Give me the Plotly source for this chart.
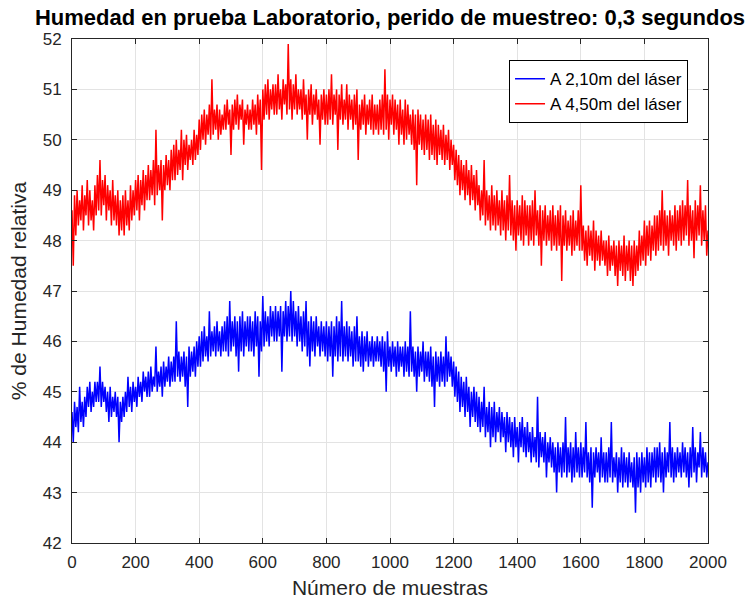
import plotly.graph_objects as go

# Sample spacing of the stored readings (every 4th sample of the 2000-sample run)
STEP = 4

# Relative humidity (%) at 4,50 m from the laser, one row per 80 samples
hum_450 = [
    48.6, 47.5, 48.9, 48.1, 49.0, 48.3, 48.8, 48.4, 49.1, 48.2, 48.9, 48.5, 49.2, 48.3, 49.0, 48.4, 48.8, 48.2, 49.1, 48.5,
    49.3, 48.6, 49.6, 48.5, 49.2, 48.7, 49.3, 48.4, 49.1, 48.6, 49.0, 48.3, 49.2, 48.4, 48.9, 48.3, 49.0, 48.1, 48.8, 48.2,
    48.9, 48.1, 49.0, 48.3, 48.8, 48.2, 49.1, 48.4, 49.0, 48.5, 49.2, 48.6, 49.3, 48.4, 49.2, 48.7, 49.4, 48.6, 49.3, 48.8,
    49.5, 48.8, 49.4, 48.9, 49.6, 48.7, 50.2, 48.9, 49.5, 49.0, 49.6, 48.4, 49.5, 49.0, 49.7, 49.1, 49.6, 49.0, 49.8, 49.2,
    49.9, 49.2, 50.0, 49.3, 49.8, 49.4, 50.2, 49.2, 50.0, 49.5, 50.1, 49.4, 49.9, 49.6, 50.0, 49.5, 50.2, 49.6, 50.1, 49.7,
    50.4, 49.8, 50.5, 50.0, 50.6, 49.9, 50.5, 50.1, 50.7, 50.0, 51.2, 50.1, 50.6, 50.2, 50.7, 50.0, 50.6, 50.1, 50.5, 50.2,
    50.7, 50.2, 50.8, 50.3, 50.6, 49.7, 50.7, 50.2, 50.8, 50.3, 50.9, 50.2, 50.7, 50.4, 50.8, 49.9, 50.6, 50.3, 50.7, 50.2,
    50.6, 50.2, 50.8, 50.3, 50.7, 50.1, 50.9, 50.3, 50.8, 49.4, 51.0, 50.4, 51.1, 50.5, 51.2, 50.4, 51.0, 50.6, 51.1, 50.5,
    51.1, 50.5, 51.3, 50.6, 51.0, 50.4, 51.2, 50.7, 51.1, 50.5, 51.9, 50.6, 51.2, 50.4, 51.1, 50.6, 51.3, 50.5, 51.0, 50.6,
    51.0, 50.4, 51.2, 50.5, 50.9, 50.0, 51.0, 50.5, 51.1, 50.3, 50.9, 50.5, 51.0, 50.4, 50.8, 49.9, 50.9, 50.4, 51.0, 50.3,
    50.9, 50.3, 51.0, 50.4, 51.3, 50.3, 50.9, 50.5, 51.0, 49.8, 50.9, 50.4, 51.1, 50.3, 50.8, 50.4, 51.1, 50.2, 50.9, 50.4,
    50.8, 50.2, 50.9, 50.3, 51.0, 49.6, 50.7, 50.2, 50.8, 50.3, 50.9, 50.1, 50.7, 50.3, 50.8, 50.2, 50.9, 50.1, 50.7, 50.2,
    50.7, 50.1, 50.8, 50.2, 50.9, 50.1, 51.4, 50.2, 50.9, 50.0, 50.8, 50.3, 50.9, 50.1, 50.8, 50.2, 50.7, 49.9, 50.8, 50.1,
    50.6, 49.9, 50.8, 50.0, 50.7, 50.1, 50.5, 49.9, 50.6, 49.8, 50.5, 49.1, 50.6, 49.9, 50.5, 49.8, 50.4, 49.7, 50.5, 49.8,
    50.4, 49.6, 50.5, 49.7, 50.3, 49.6, 50.4, 49.5, 50.3, 49.7, 50.2, 49.6, 50.3, 49.5, 50.1, 49.6, 50.2, 49.4, 50.0, 49.5,
    49.9, 49.2, 49.8, 49.1, 49.7, 48.9, 49.6, 49.0, 49.5, 48.8, 49.6, 48.9, 49.4, 48.7, 49.5, 48.8, 49.3, 48.6, 49.4, 48.7,
    49.1, 48.4, 49.0, 48.5, 49.6, 48.3, 49.0, 48.4, 48.9, 48.2, 49.1, 48.3, 48.9, 48.2, 49.0, 48.3, 48.8, 48.1, 49.0, 48.2,
    48.8, 48.0, 48.9, 48.2, 49.3, 48.1, 48.8, 48.0, 48.7, 47.8, 48.8, 48.1, 48.7, 48.0, 48.9, 47.9, 48.8, 48.1, 48.7, 47.9,
    48.7, 48.0, 48.8, 47.9, 49.0, 48.1, 48.6, 47.9, 48.7, 47.5, 48.6, 48.0, 48.7, 47.9, 48.5, 48.0, 48.6, 47.8, 48.7, 47.9,
    48.5, 47.8, 48.6, 47.9, 48.7, 47.2, 48.5, 47.9, 48.6, 47.8, 48.4, 47.9, 48.5, 47.7, 48.6, 47.8, 48.4, 47.9, 48.6, 47.8,
    49.1, 47.8, 48.3, 47.6, 48.2, 47.5, 48.3, 47.7, 48.2, 47.6, 48.4, 47.4, 48.2, 47.6, 48.1, 47.5, 48.2, 47.6, 48.0, 47.5,
    48.0, 47.3, 48.1, 47.4, 47.9, 47.5, 48.0, 47.3, 47.9, 47.1, 48.0, 47.4, 47.9, 47.3, 48.1, 47.2, 47.9, 47.4, 48.0, 47.2,
    47.9, 47.1, 48.0, 47.3, 47.9, 47.4, 48.2, 47.5, 48.1, 47.6, 48.4, 47.5, 48.3, 47.7, 48.4, 47.6, 48.3, 47.8, 48.5, 47.7,
    48.5, 47.8, 48.6, 47.9, 49.0, 47.8, 48.6, 47.9, 48.5, 47.7, 48.6, 48.0, 48.5, 47.9, 48.7, 47.8, 48.6, 48.0, 48.7, 47.9,
    48.8, 48.0, 48.7, 48.1, 49.2, 47.9, 48.7, 48.0, 48.6, 47.65, 48.8, 48.0, 48.7, 48.1, 49.1, 47.9, 48.6, 48.0, 48.7, 47.7,
    48.2,
]

# Relative humidity (%) at 2,10 m from the laser, one row per 80 samples
hum_210 = [
    44.6, 44.0, 44.8, 44.3, 44.7, 44.2, 45.1, 44.4, 44.8, 44.3, 44.9, 44.5, 45.1, 44.7, 45.2, 44.6, 45.0, 44.7, 45.2, 44.8,
    45.2, 44.8, 45.5, 44.7, 45.2, 44.8, 45.1, 44.6, 45.0, 44.4, 45.1, 44.5, 44.9, 44.6, 45.0, 44.5, 44.9, 44.0, 44.8, 44.4,
    44.9, 44.5, 45.0, 44.6, 45.3, 44.7, 45.1, 44.6, 45.2, 44.8, 45.1, 44.7, 45.3, 44.9, 45.2, 44.8, 45.4, 45.0, 45.3, 44.9,
    45.4, 44.9, 45.5, 45.0, 45.3, 45.1, 45.9, 45.0, 45.4, 45.1, 45.5, 44.9, 45.6, 45.1, 45.5, 45.2, 45.7, 45.1, 45.6, 45.2,
    45.7, 45.2, 46.4, 45.3, 45.8, 45.2, 45.7, 45.3, 45.8, 45.1, 45.7, 44.7, 45.9, 45.3, 45.8, 45.4, 45.9, 45.3, 46.0, 45.5,
    46.1, 45.5, 46.2, 45.6, 46.3, 45.7, 46.1, 45.6, 46.6, 45.7, 46.2, 45.8, 46.3, 45.7, 46.4, 45.8, 46.2, 45.7, 46.3, 45.8,
    46.4, 45.8, 46.5, 45.7, 46.8, 45.8, 46.4, 45.9, 46.5, 45.7, 46.4, 45.4, 46.5, 45.8, 46.6, 45.7, 46.4, 45.9, 46.5, 45.8,
    46.5, 45.8, 46.4, 45.7, 46.6, 45.9, 46.5, 45.3, 46.4, 45.8, 46.9, 45.9, 46.6, 46.0, 46.5, 45.9, 46.7, 46.1, 46.6, 46.0,
    46.7, 46.0, 46.6, 46.1, 46.7, 45.4, 46.6, 46.1, 46.8, 46.0, 46.7, 46.1, 47.0, 46.0, 46.8, 46.1, 46.6, 45.9, 46.7, 46.0,
    46.5, 45.8, 46.6, 45.9, 46.8, 45.7, 46.4, 45.5, 46.5, 45.8, 46.4, 45.7, 46.5, 45.9, 46.3, 45.7, 46.4, 45.8, 46.3, 45.7,
    46.4, 45.6, 46.3, 45.7, 46.4, 45.3, 46.3, 45.7, 46.5, 45.6, 46.4, 45.7, 46.8, 45.6, 46.3, 45.7, 46.4, 45.6, 46.3, 45.7,
    46.2, 45.5, 46.3, 45.6, 46.5, 45.6, 46.1, 45.5, 46.2, 45.4, 46.1, 45.6, 46.2, 45.5, 46.0, 45.6, 46.1, 45.5, 46.0, 45.6,
    46.1, 45.6, 46.0, 45.5, 46.1, 45.4, 46.0, 45.0, 46.2, 45.5, 45.9, 45.4, 46.0, 45.5, 45.9, 45.3, 46.0, 45.4, 45.9, 45.5,
    45.9, 45.3, 46.0, 45.4, 45.9, 45.3, 46.6, 45.4, 45.9, 45.3, 45.8, 45.0, 45.9, 45.3, 45.8, 45.4, 46.0, 45.2, 45.8, 45.3,
    45.8, 45.2, 45.9, 45.1, 45.7, 44.7, 45.8, 45.2, 45.7, 45.1, 45.8, 45.2, 45.7, 45.1, 46.1, 45.2, 45.8, 45.3, 45.7, 45.1,
    45.6, 44.9, 45.5, 44.8, 45.4, 44.6, 45.3, 44.7, 45.2, 44.5, 45.3, 44.6, 45.1, 44.3, 45.0, 44.5, 45.1, 44.4, 45.0, 44.3,
    44.9, 44.2, 44.8, 44.3, 45.1, 44.1, 44.7, 44.2, 44.8, 43.9, 44.7, 44.1, 44.8, 44.0, 44.6, 44.2, 44.7, 44.0, 44.6, 44.1,
    44.5, 43.8, 44.6, 44.0, 44.5, 43.9, 44.4, 43.7, 44.5, 43.9, 44.3, 43.6, 44.4, 43.9, 44.5, 43.8, 44.3, 43.7, 44.4, 43.8,
    44.2, 43.6, 44.3, 43.7, 44.1, 43.6, 44.9, 43.5, 44.2, 43.7, 44.1, 43.6, 44.2, 43.3, 44.0, 43.6, 44.1, 43.5, 44.0, 43.4,
    43.9, 43.0, 44.0, 43.4, 43.9, 43.3, 44.0, 43.4, 44.5, 43.3, 43.9, 43.4, 44.0, 43.2, 43.9, 43.3, 44.2, 43.4, 43.9, 43.3,
    44.0, 43.3, 43.9, 43.4, 44.4, 43.3, 43.8, 43.2, 43.9, 42.7, 43.8, 43.3, 43.9, 43.4, 43.8, 43.2, 44.1, 43.3, 43.8, 43.2,
    43.8, 43.2, 43.9, 43.3, 44.4, 43.2, 43.7, 43.3, 43.8, 43.0, 43.7, 43.2, 43.9, 43.1, 43.8, 43.2, 43.7, 43.1, 43.8, 43.2,
    43.6, 43.1, 43.7, 42.6, 43.8, 43.1, 43.7, 43.0, 43.8, 43.2, 43.7, 43.1, 43.9, 43.2, 43.8, 43.1, 43.8, 43.3, 43.9, 43.2,
    43.9, 43.3, 44.0, 43.2, 43.8, 43.0, 43.9, 43.3, 43.8, 43.4, 44.4, 43.3, 43.9, 43.2, 43.8, 43.3, 43.9, 43.4, 43.8, 43.3,
    44.0, 43.4, 43.9, 43.3, 43.8, 43.1, 43.9, 43.3, 44.3, 43.4, 43.9, 43.2, 43.8, 43.5, 44.2, 43.3, 43.9, 43.4, 43.8, 43.3,
    43.6,
]

samples = [i * STEP for i in range(len(hum_210))]

x_ticks = [0, 200, 400, 600, 800, 1000, 1200, 1400, 1600, 1800, 2000]
y_ticks = [42, 43, 44, 45, 46, 47, 48, 49, 50, 51, 52]

FONT = "Liberation Sans, Arial, Helvetica, sans-serif"
AXIS_GREY = "#262626"
GRID_GREY = "#e3e3e3"

fig = go.Figure()
fig.add_trace(go.Scatter(
    x=samples, y=hum_210, mode="lines", name="A 2,10m del láser",
    line=dict(color="#0000ff", width=1.5),
))
fig.add_trace(go.Scatter(
    x=samples, y=hum_450, mode="lines", name="A 4,50m del láser",
    line=dict(color="#ff0000", width=1.5),
))

axis_common = dict(
    showgrid=True, gridcolor=GRID_GREY, gridwidth=1,
    showline=True, linecolor=AXIS_GREY, linewidth=1, mirror="ticks",
    ticks="inside", ticklen=5, tickcolor=AXIS_GREY, tickwidth=1,
    zeroline=False,
    tickfont=dict(family=FONT, size=17, color=AXIS_GREY),
)

fig.update_layout(
    width=749, height=606,
    margin=dict(l=72, r=41, t=39, b=63),
    paper_bgcolor="white", plot_bgcolor="white",
    font=dict(family=FONT, color=AXIS_GREY),
    title=dict(
        text="<b>Humedad en prueba Laboratorio, perido de muestreo: 0,3 segundos</b>",
        font=dict(family=FONT, size=22, color="#000000"),
        x=0.5, xref="paper", xanchor="center",
        y=1 - 17 / 606, yref="container", yanchor="middle",
    ),
    xaxis=dict(
        range=[0, 2000], tickvals=x_ticks,
        title=dict(text="Número de muestras", font=dict(family=FONT, size=21, color=AXIS_GREY), standoff=8),
        ticklabelstandoff=4,
        **axis_common,
    ),
    yaxis=dict(
        range=[42, 52], tickvals=y_ticks,
        title=dict(text="% de Humedad relativa", font=dict(family=FONT, size=21, color=AXIS_GREY), standoff=10),
        ticklabelstandoff=6,
        **axis_common,
    ),
    legend=dict(
        x=0.9686, y=0.958, xanchor="right", yanchor="top",
        bgcolor="white", bordercolor="#000000", borderwidth=1,
        font=dict(family=FONT, size=17, color="#000000"),
        tracegroupgap=0, itemwidth=30,
    ),
    showlegend=True,
)

fig.write_html("out.html")
